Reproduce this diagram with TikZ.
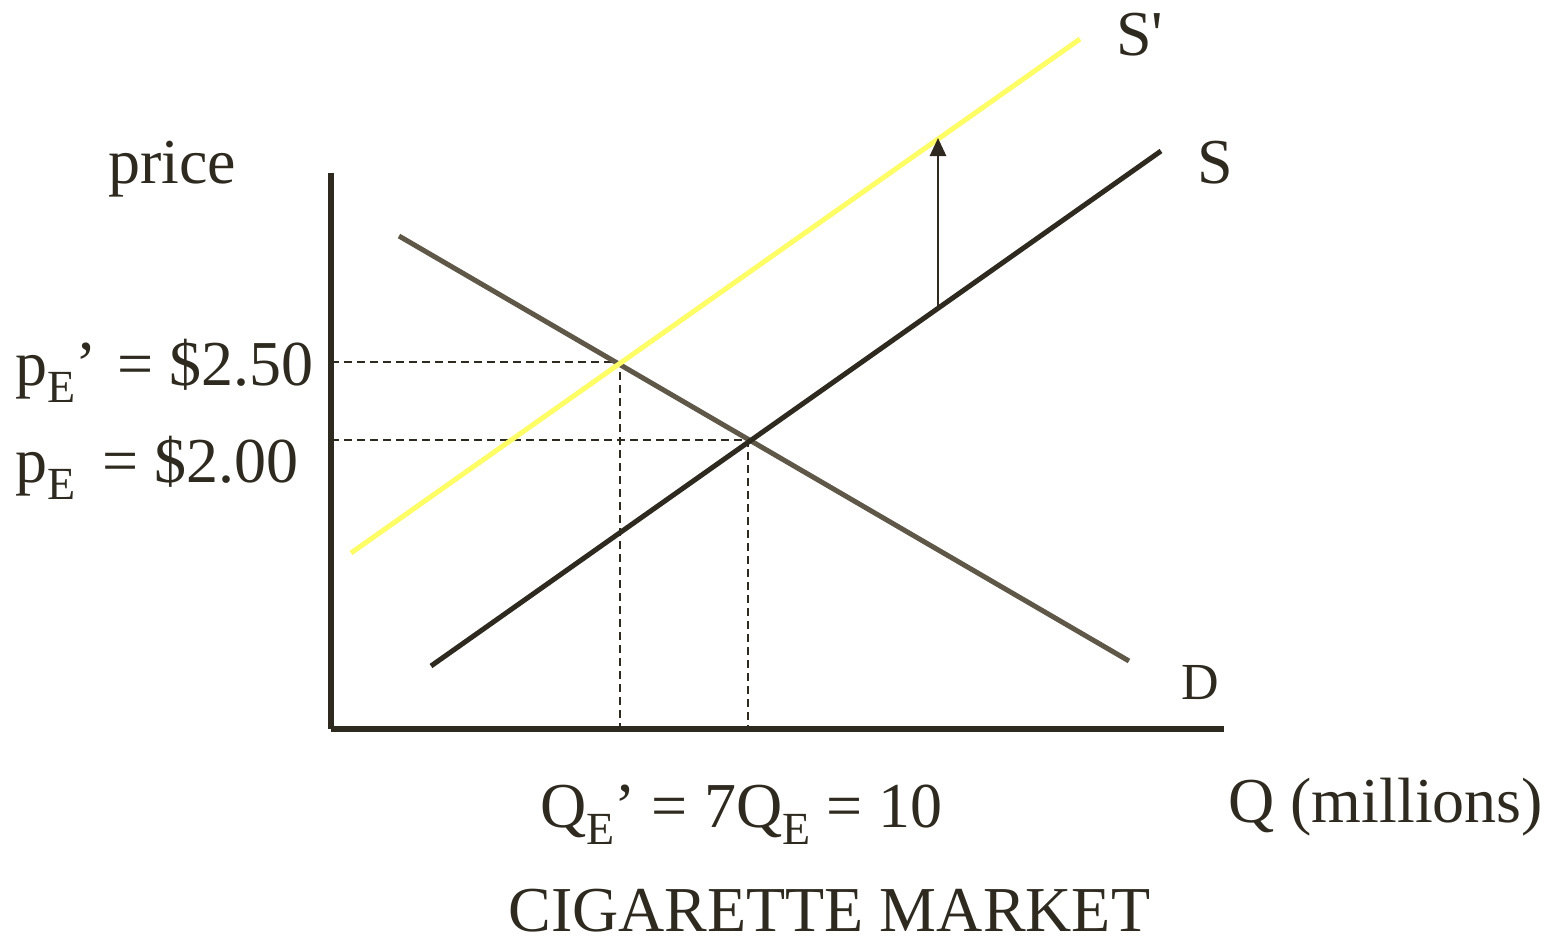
\documentclass[tikz,border=0pt]{standalone}
\usepackage{fontspec}
\setmainfont{Liberation Serif}
\usetikzlibrary{arrows.meta}
\definecolor{ink}{RGB}{46,42,32}
\definecolor{dem}{RGB}{95,88,72}
\definecolor{sup2}{RGB}{255,255,102}
\newcommand\sbE{\raisebox{-0.28em}{\fontsize{23}{23}\selectfont E}}
\tikzset{
  lbl/.style={inner sep=0pt, text=ink, font=\fontsize{32}{38}\selectfont},
  axis/.style={ink, line width=2.6pt},
  curve/.style={line width=2.5pt},
  guide/.style={ink, line width=1pt, dash pattern=on 4pt off 2.5pt},
}
\begin{document}
\begin{tikzpicture}[x=0.5pt,y=-0.5pt]
\useasboundingbox (0,0) rectangle (1549,938);
% axes
\coordinate (ytop) at (331,173);
\coordinate (orig) at (331,729);
\coordinate (xend) at (1224,729);
\draw[axis] (ytop) -- (orig);
\draw[axis] (orig) -- (xend);
% curves
\coordinate (d1) at (399,236);
\coordinate (d2) at (1129,661);
\coordinate (s1) at (431,666);
\coordinate (s2) at (1161,151);
\coordinate (t1) at (351,553);
\coordinate (t2) at (1080,39);
\coordinate (e1) at (748,440);
\coordinate (e2) at (620,362);
\coordinate (ya) at (331,362);
\coordinate (yb) at (331,440);
\coordinate (xa) at (620,727);
\coordinate (xb) at (748,727);
\coordinate (abot) at (938,309);
\coordinate (atop) at (938,138);
% guides
\draw[guide] (ya) -- (e2) -- (xa);
\draw[guide] (yb) -- (e1) -- (xb);
\draw[curve, dem] (d1) -- (d2);
\draw[curve, sup2] (t1) -- (t2);
\draw[curve, ink] (s1) -- (s2);
\draw[ink, line width=1.4pt, -{Triangle[length=9pt,width=8pt]}] (abot) -- (atop);
% labels
\node[lbl, anchor=base] (price) at (172,183) {price};
\node[lbl, anchor=base west] (lsp) at (1116,55) {S\textquotesingle};
\node[lbl, anchor=base west] (ls) at (1197,183) {S};
\node[lbl, anchor=base west, font=\fontsize{26}{30}\selectfont] (ld) at (1181,699) {D};
\node[lbl, anchor=base west] (pe2) at (15,385) {p\sbE’\kern2.5pt\ = \$2.50};
\node[lbl, anchor=base west] (pe1) at (15,482) {p\sbE\ \,= \$2.00};
\node[lbl, anchor=base west] (qe) at (540,827) {Q\sbE’ = 7Q\sbE\ = 10};
\node[lbl, anchor=base west] (qm) at (1228,822) {Q (millions)};
\node[lbl, anchor=base west] (title) at (508,931) {CIGARETTE MARKET};
\end{tikzpicture}
\end{document}
